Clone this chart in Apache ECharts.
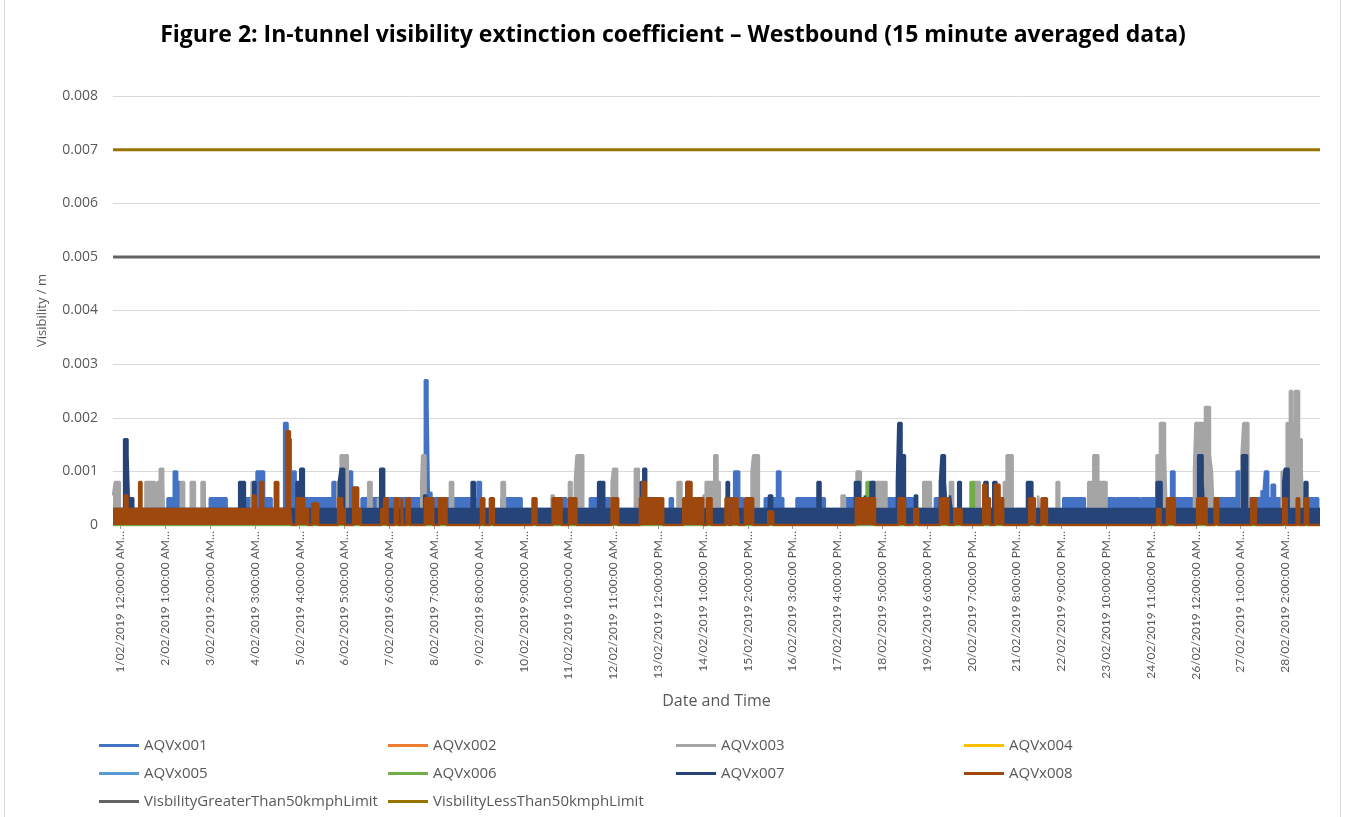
<!DOCTYPE html>
<html>
<head>
<meta charset="utf-8">
<script src="https://cdn.jsdelivr.net/npm/echarts@6/dist/echarts.min.js"></script>
<style>
  html, body { margin: 0; padding: 0; background: #fff; }
  #main { width: 1346px; height: 817px; }
</style>
</head>
<body>
<div id="main"></div>
<script>
// x values are hours since 1/02/2019 12:00 AM, values are extinction coefficient (1/m)
// each series is a list of [hour, value] change points (value holds until the next point)
var xStart = -4.2, xEnd = 669.3;

var tickLabels = ['1/02/2019 12:00:00 AM', '2/02/2019 1:00:00 AM', '3/02/2019 2:00:00 AM', '4/02/2019 3:00:00 AM',
    '5/02/2019 4:00:00 AM', '6/02/2019 5:00:00 AM', '7/02/2019 6:00:00 AM', '8/02/2019 7:00:00 AM',
    '9/02/2019 8:00:00 AM', '10/02/2019 9:00:00 AM', '11/02/2019 10:00:00 AM', '12/02/2019 11:00:00 AM',
    '13/02/2019 12:00:00 PM', '14/02/2019 1:00:00 PM', '15/02/2019 2:00:00 PM', '16/02/2019 3:00:00 PM',
    '17/02/2019 4:00:00 PM', '18/02/2019 5:00:00 PM', '19/02/2019 6:00:00 PM', '20/02/2019 7:00:00 PM',
    '21/02/2019 8:00:00 PM', '22/02/2019 9:00:00 PM', '23/02/2019 10:00:00 PM', '24/02/2019 11:00:00 PM',
    '26/02/2019 12:00:00 AM', '27/02/2019 1:00:00 AM', '28/02/2019 2:00:00 AM'];
var tickHours = [0, 25, 50, 75, 100, 125, 150, 175, 200, 225, 250, 275, 300, 325,
    350, 375, 400, 425, 450, 475, 500, 525, 550, 575, 600, 625, 650];

var aqvx001 = [[-4.2,0.0003],[4.3,0.0005],[7.0,0.0003],[26.2,0.0005],[29.7,0.001],[31.6,0.0008],[33.1,0.0003],
    [49.8,0.0005],[59.2,0.0003],[69.4,0.0005],[75.9,0.001],[80.1,0.0005],[84.3,0.0003],
    [91.3,0.0019],[93.2,0.0016],[95.0,0.001],[97.7,0.0005],[118.3,0.0008],[120.0,0.0003],
    [127.0,0.001],[129.2,0.0003],[134.5,0.0005],[169.8,0.0027],[171.3,0.0022],[172.0,0.0006],[173.5,0.0005],
    [199.2,0.0008],[201.1,0.0005],[202.3,0.0003],[212.6,0.0005],[223.8,0.0003],[246.1,0.0005],[248.9,0.0003],
    [261.9,0.0005],[267.5,0.0003],[270.8,0.0005],[275.8,0.0003],[306.5,0.0005],[308.2,0.0003],
    [340.0,0.0005],[342.4,0.001],[345.2,0.0005],[347.5,0.0003],[359.5,0.0005],[366.3,0.001],[368.2,0.0005],[369.8,0.0003],
    [377.2,0.0005],[393.0,0.0003],[404.2,0.0005],[410.7,0.0003],[420.9,0.0005],[435.8,0.0003],
    [438.6,0.0005],[442.3,0.0003],[454.4,0.0005],[458.1,0.0003],[526.0,0.0005],[538.1,0.0003],
    [550.2,0.0005],[554.9,0.0003],[555.8,0.0005],[568.8,0.0003],[569.8,0.0005],[578.1,0.0003],
    [583.7,0.0005],[586.2,0.001],[588.1,0.0005],[599.5,0.0003],[609.7,0.0005],[622.8,0.001],[624.6,0.0003],
    [630.2,0.0005],[636.7,0.00065],[637.6,0.0005],[638.6,0.001],[640.4,0.0005],[642.3,0.00075],[644.2,0.0005],[650.7,0.0003],
    [660.9,0.0005],[668.3,0.0003],[669.3,0.0003]];
var aqvx002 = [[-4.2,0],[669.3,0]];
var aqvx003 = [[-4.2,0.00055],[-3.2,0.0008],[-0.4,0.0002],[13.9,0.0008],[19.1,0.0005],[20.4,0.0008],[21.9,0.00105],[23.8,0.0008],[24.2,0.0002],
    [33.6,0.0008],[35.5,0.0002],[39.2,0.0008],[41.5,0.0002],[45.2,0.0008],[47.0,0.0002],[73.1,0.0008],[74.6,0.0002],
    [121.0,0.0008],[122.8,0.0013],[126.8,0.0002],[138.2,0.0008],[140.1,0.0002],[143.6,0.0005],[144.7,0.0002],
    [167.8,0.0008],[168.3,0.0013],[170.2,0.0002],[183.8,0.0008],[185.6,0.0002],[212.6,0.0008],[214.5,0.0002],
    [240.5,0.00055],[241.8,0.0002],[250.2,0.0008],[251.7,0.0002],[253.5,0.0008],[254.4,0.0013],[258.2,0.0002],
    [274.0,0.0008],[274.9,0.00105],[277.1,0.0002],[287.0,0.00105],[289.2,0.0002],[310.8,0.0008],[313.0,0.0002],
    [325.2,0.00055],[326.5,0.0008],[331.3,0.0013],[333.1,0.0008],[334.4,0.0002],[352.1,0.001],[353.0,0.0013],[356.2,0.0002],
    [402.3,0.00055],[404.2,0.0002],[410.7,0.001],[413.1,0.0002],[419.1,0.0008],[427.4,0.0002],
    [447.9,0.0008],[452.2,0.0002],[462.8,0.0008],[464.6,0.0002],[476.2,0.0008],[479.5,0.0002],
    [492.9,0.0008],[494.4,0.0013],[497.8,0.0002],[512.0,0.00055],[513.0,0.0002],[522.3,0.0008],[523.8,0.0002],
    [540.0,0.0008],[542.8,0.0013],[545.6,0.0008],[550.2,0.0002],[578.1,0.0013],[580.0,0.0019],[582.8,0.0013],[583.7,0.0002],
    [599.0,0.00105],[599.8,0.0019],[605.1,0.0022],[607.9,0.0013],[609.0,0.001],[610.0,0.0002],
    [625.5,0.0013],[626.5,0.0019],[629.3,0.0002],
    [647.9,0.001],[650.7,0.0019],[652.5,0.0025],[653.8,0.0019],[655.3,0.0025],[657.6,0.0016],[659.1,0.001],[660.0,0.0002],
    [669.3,0.0002]];
var aqvx004 = [[-4.2,0],[669.3,0]];
var aqvx005 = [[-4.2,0],[669.3,0]];
var aqvx006 = [[-4.2,0],[416.3,0.0008],[418.1,0],[474.3,0.0008],[476.2,0],[669.3,0]];
var aqvx007 = [[-4.2,0.0003],[2.0,0.0016],[3.9,0.0013],[4.6,0.0005],[7.0,0.0003],[66.2,0.0008],[69.4,0.0003],
    [74.0,0.0008],[75.3,0.0003],[98.2,0.0008],[100.3,0.00105],[102.3,0.0003],[121.8,0.0008],[122.8,0.00105],[124.8,0.0003],
    [144.9,0.00105],[147.1,0.0003],[169.4,0.00055],[170.7,0.0003],[195.9,0.0008],[197.7,0.0003],
    [266.5,0.0008],[269.9,0.0003],[290.3,0.0008],[291.7,0.00105],[293.3,0.0003],[315.8,0.0008],[317.7,0.0003],
    [338.2,0.0008],[339.5,0.0003],[361.8,0.00055],[363.6,0.0003],[388.9,0.0008],[390.6,0.0003],
    [409.8,0.0008],[412.6,0.0003],[415.3,0.00055],[416.3,0.0003],[418.5,0.0008],[420.6,0.0003],
    [433.2,0.0008],[434.0,0.0019],[435.8,0.0013],[437.7,0.0003],[443.2,0.00055],[444.5,0.0003],
    [457.2,0.0008],[458.1,0.0013],[460.0,0.0008],[460.9,0.0003],[462.8,0.00055],[463.7,0.0003],
    [467.4,0.0008],[468.9,0.0003],[482.0,0.0008],[483.8,0.0003],[487.0,0.0008],[488.8,0.0003],
    [505.8,0.0008],[508.8,0.0003],[578.1,0.0008],[580.9,0.0003],[601.3,0.0013],[603.8,0.0008],[604.5,0.0003],
    [625.8,0.0013],[628.6,0.0003],[648.8,0.0008],[649.6,0.00105],[651.8,0.0003],[660.7,0.0008],[662.3,0.0003],
    [669.3,0.0003]];
var aqvx008 = [[-4.2,0.0003],[2.4,0.00055],[3.9,0.0003],[10.4,0.0008],[11.7,0.0003],[73.8,0.00055],[75.5,0.0003],
    [77.9,0.0008],[79.6,0.0003],[86.1,0.0008],[88.0,0.0003],[92.6,0.00175],[94.5,0.0003],[95.4,0],
    [98.2,0.0005],[102.4,0.0003],[104.7,0],[106.9,0.0004],[110.3,0],[121.4,0.0005],[123.7,0.0003],[125.2,0],
    [129.8,0.0007],[132.6,0.0003],[134.0,0],[145.5,0.0003],[147.1,0.0005],[149.0,0],[153.1,0.0005],[154.9,0],
    [156.8,0.0005],[157.7,0],[159.6,0.0005],[161.4,0],[169.8,0.0005],[174.5,0],[177.8,0.0005],[181.9,0],
    [201.1,0.0005],[203.0,0],[206.1,0.0005],[208.3,0],[229.9,0.0005],[232.1,0],[241.1,0.0005],[246.1,0],
    [250.2,0.0005],[254.4,0],[274.0,0.0005],[277.7,0],[289.8,0.0005],[291.1,0.0008],[293.0,0.0005],[302.8,0],
    [314.0,0.0005],[315.8,0.0008],[318.6,0.0005],[325.1,0],[327.3,0.0005],[329.8,0],
    [337.6,0.0005],[339.5,0],[341.0,0.0005],[344.3,0.0003],[345.0,0],[348.4,0.0005],[353.0,0],
    [361.4,0.00025],[364.2,0],[410.3,0.0005],[421.0,0],[434.0,0.0005],[437.7,0],[442.9,0.0003],[445.1,0],
    [457.2,0.0005],[461.9,0],[465.2,0.0003],[469.3,0],[481.4,0.00075],[483.0,0.0005],[485.1,0],
    [487.9,0.00075],[490.5,0.0005],[492.5,0],[507.0,0.0005],[510.2,0],[513.9,0.0005],[516.9,0],
    [578.4,0.0003],[580.3,0],[583.9,0.0005],[588.3,0],[600.7,0.0005],[606.0,0],[610.5,0.0005],[612.5,0],
    [631.0,0.0005],[633.5,0],[648.8,0.0005],[650.7,0],[656.3,0.0005],[657.7,0],[660.9,0.0005],[662.7,0],
    [669.3,0]];
var limitGreater50 = 0.005;
var limitLess50 = 0.007;

var myChart = echarts.init(document.getElementById('main'));

var font = '"Open Sans", sans-serif';
var tickFont = 'Lato, sans-serif';
var textGray = '#595959';

// each series gets its own z so later series paint over earlier ones (area + line together)
function stepSeries(name, data, color, z) {
    return {
        name: name,
        type: 'line',
        step: 'end',
        symbol: 'none',
        z: z,
        data: data,
        lineStyle: {color: color, width: 2.5},
        itemStyle: {color: color},
        areaStyle: {color: color, opacity: 1}
    };
}
function limitSeries(name, value, color, z) {
    return {
        name: name,
        type: 'line',
        symbol: 'none',
        z: z,
        data: [[xStart, value], [xEnd, value]],
        lineStyle: {color: color, width: 3},
        itemStyle: {color: color}
    };
}

var names = ['AQVx001', 'AQVx002', 'AQVx003', 'AQVx004', 'AQVx005', 'AQVx006', 'AQVx007', 'AQVx008',
    'VisbilityGreaterThan50kmphLimit', 'VisbilityLessThan50kmphLimit'];
var colors = ['#4472C4', '#ED7D31', '#A5A5A5', '#FFC000', '#5B9BD5', '#70AD47', '#264478', '#9E480E', '#636363', '#997300'];
var seriesData = [aqvx001, aqvx002, aqvx003, aqvx004, aqvx005, aqvx006, aqvx007, aqvx008];

var series = [];
for (var i = 0; i < 8; i++) {
    series.push(stepSeries(names[i], seriesData[i], colors[i], 3 + i));
}
series.push(limitSeries(names[8], limitGreater50, colors[8], 11));
series.push(limitSeries(names[9], limitLess50, colors[9], 12));

// legend: 4 columns x 3 rows
var legendCols = [99, 388, 676, 964];
var legendRows = [738, 766, 794];
var legends = names.map(function (n, i) {
    return {
        data: [n],
        left: legendCols[i % 4],
        top: legendRows[Math.floor(i / 4)],
        padding: 0,
        icon: 'rect',
        itemWidth: 40,
        itemHeight: 3,
        textStyle: {color: textGray, fontSize: 15, fontFamily: font}
    };
});

var option = {
    animation: false,
    title: {
        text: 'Figure 2: In-tunnel visibility extinction coefficient \u2013 Westbound (15 minute averaged data)',
        left: 'center',
        top: 24,
        padding: 0,
        textStyle: {color: '#000', fontSize: 23, fontWeight: 'bold', fontFamily: font}
    },
    legend: legends,
    grid: {left: 113, right: 26, top: 96, bottom: 292},
    xAxis: {
        type: 'value',
        min: xStart,
        max: xEnd,
        name: 'Date and Time',
        nameLocation: 'middle',
        nameGap: 168,
        nameTextStyle: {color: textGray, fontSize: 16, fontFamily: font},
        axisLine: {show: true, onZero: false, lineStyle: {color: '#d9d9d9'}},
        axisTick: {show: true, length: 4, customValues: tickHours, lineStyle: {color: '#999'}},
        splitLine: {show: false},
        axisLabel: {
            customValues: tickHours,
            rotate: 90,
            color: textGray,
            fontSize: 12,
            fontFamily: tickFont,
            margin: 6,
            formatter: function (v) {
                var k = tickHours.indexOf(Math.round(v));
                return k >= 0 ? tickLabels[k] + '\u2026' : '';
            }
        }
    },
    yAxis: {
        type: 'value',
        min: 0,
        max: 0.008,
        interval: 0.001,
        name: 'Visibility / m',
        nameLocation: 'middle',
        nameGap: 64,
        nameTextStyle: {color: textGray, fontSize: 13, fontFamily: font},
        axisLine: {show: false},
        axisTick: {show: false},
        splitLine: {lineStyle: {color: '#d9d9d9', width: 1}},
        axisLabel: {
            color: textGray,
            fontSize: 14,
            fontFamily: font,
            margin: 15,
            formatter: function (v) { return v === 0 ? '0' : v.toFixed(3); }
        }
    },
    graphic: [{
        type: 'rect',
        shape: {x: 4.5, y: -2, width: 1336, height: 830},
        style: {fill: 'none', stroke: '#d9d9d9', lineWidth: 1},
        silent: true
    }],
    series: series
};
myChart.setOption(option);
</script>
</body>
</html>
